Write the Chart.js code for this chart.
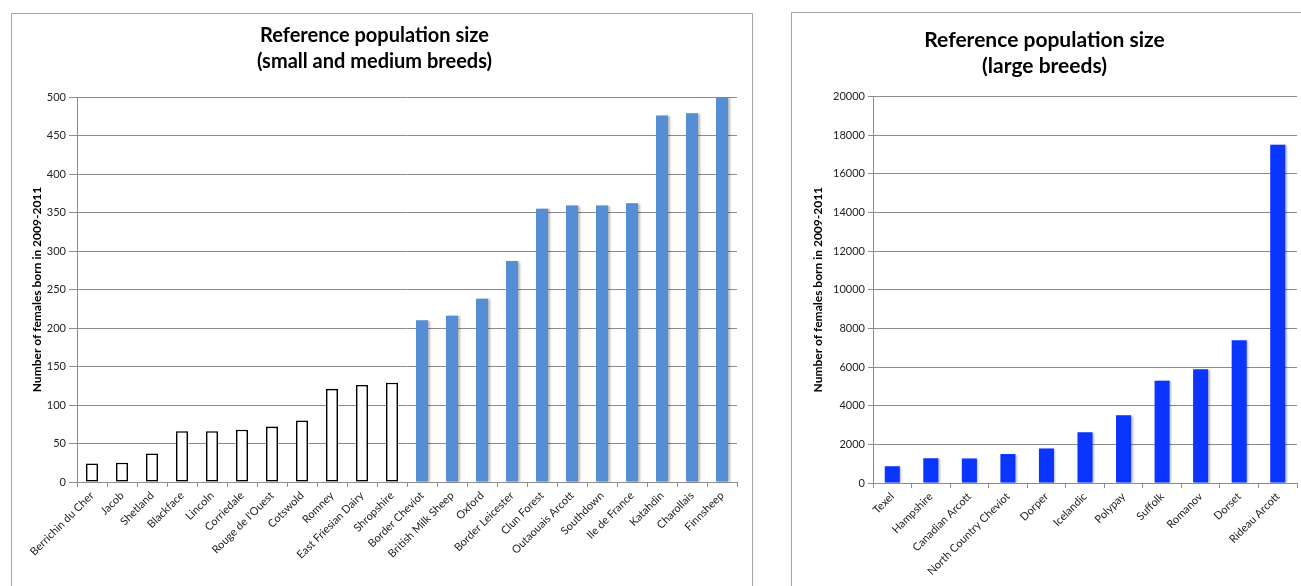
<!DOCTYPE html>
<html>
<head>
<meta charset="utf-8">
<title>Reference population size</title>
<script src="https://cdn.jsdelivr.net/npm/chart.js@4.4.1/dist/chart.umd.min.js"></script>
<style>
  html, body { margin: 0; background: #fff; overflow: hidden; }
  .box { position: absolute; border: 1px solid #a6a6a6; background: #fff; }
  #box-left { left: 11px; top: 13px; width: 740px; height: 600px; }
  #box-right { left: 791px; top: 12px; width: 540px; height: 600px; }
  canvas { display: block; }
</style>
</head>
<body>
<div class="box" id="box-left"><canvas id="chart-small" width="740" height="572"></canvas></div>
<div class="box" id="box-right"><canvas id="chart-large" width="520" height="573"></canvas></div>
<script>
// --- Data ---
const smallBreeds = ['Berrichin du Cher', 'Jacob', 'Shetland', 'Blackface', 'Lincoln', 'Corriedale',
  "Rouge de l'Ouest", 'Cotswold', 'Romney', 'East Friesian Dairy', 'Shropshire']
const smallValues = [24, 25, 37, 66, 66, 68, 72, 80, 121, 126, 129]

const mediumBreeds = ['Border Cheviot', 'British Milk Sheep', 'Oxford', 'Border Leicester', 'Clun Forest',
  'Outaouais Arcott', 'Southdown', 'Ile de France', 'Katahdin', 'Charollais', 'Finnsheep']
const mediumValues = [210, 216, 238, 287, 355, 359, 359, 362, 476, 479, 500]

const largeBreeds = ['Texel', 'Hampshire', 'Canadian Arcott', 'North Country Cheviot', 'Dorper', 'Icelandic',
  'Polypay', 'Suffolk', 'Romanov', 'Dorset', 'Rideau Arcott']
const largeValues = [870, 1280, 1270, 1500, 1780, 2620, 3500, 5290, 5880, 7380, 17500]

const smallAxis = [0, 500, 50] // min, max, step
const largeAxis = [0, 20000, 2000]

const yTitle = 'Number of females born in 2009-2011'

// --- Styling ---
const FONT = 'Lato, "DejaVu Sans", sans-serif'
const GRID = '#8c8c8c'
const TEXT = '#222'

// soft drop shadow behind the bars
const barShadow = {
  id: 'barShadow',
  beforeDatasetsDraw: (c) => {
    c.ctx.save()
    c.ctx.shadowColor = 'rgba(0,0,0,0.28)'
    c.ctx.shadowBlur = 2
    c.ctx.shadowOffsetX = 1.5
    c.ctx.shadowOffsetY = 0.5
  },
  afterDatasetsDraw: (c) => c.ctx.restore(),
}

const makeChart = (id, cfg) => {
  new Chart(document.getElementById(id), {
    type: 'bar',
    data: {
      labels: cfg.labels,
      datasets: [
        {
          data: cfg.values,
          backgroundColor: cfg.fill,
          borderColor: cfg.stroke,
          borderWidth: cfg.strokeWidth,
          borderSkipped: false,
          categoryPercentage: 1,
          barPercentage: cfg.barPct,
        },
      ],
    },
    plugins: [barShadow],
    options: {
      responsive: false,
      animation: false,
      layout: { padding: { left: 0, right: cfg.padRight, top: 0, bottom: 0 } },
      plugins: {
        legend: { display: false },
        tooltip: { enabled: false },
        title: {
          display: true,
          text: cfg.title,
          color: '#000',
          font: { family: FONT, size: cfg.titleSize, weight: 'bold', lineHeight: cfg.titleLine },
          padding: { top: cfg.titleTop, bottom: cfg.titleBottom },
        },
      },
      scales: {
        x: {
          afterFit: (s) => { s.height = cfg.xHeight },
          grid: {
            display: true,
            drawOnChartArea: false,
            drawTicks: true,
            tickLength: 5,
            color: GRID,
            offset: true,
          },
          border: { color: GRID },
          ticks: {
            autoSkip: false,
            minRotation: 45,
            maxRotation: 45,
            padding: 2,
            color: TEXT,
            font: { family: FONT, size: 11 },
          },
        },
        y: {
          min: cfg.axis[0],
          max: cfg.axis[1],
          afterFit: (s) => { s.width = cfg.yWidth },
          grid: { color: GRID, tickLength: cfg.yTick, drawTicks: true },
          border: { color: GRID },
          ticks: {
            stepSize: cfg.axis[2],
            padding: 3,
            color: TEXT,
            font: { family: FONT, size: 11 },
            callback: (v) => String(v), // plain numbers, no thousands separator
          },
          title: {
            display: true,
            text: yTitle,
            color: '#000',
            font: { family: FONT, size: 12, weight: 'bold' },
            padding: { top: cfg.yTitlePad, bottom: 0 },
          },
        },
      },
    },
  })
}

// small and medium breeds: small ones hollow, medium ones filled
const smallMedium = smallValues.concat(mediumValues)
makeChart('chart-small', {
  labels: smallBreeds.concat(mediumBreeds),
  values: smallMedium,
  fill: smallMedium.map((v, i) => (i < smallValues.length ? '#ffffff' : '#558ed5')),
  stroke: smallMedium.map((v, i) => (i < smallValues.length ? '#000000' : '#558ed5')),
  strokeWidth: smallMedium.map((v, i) => (i < smallValues.length ? 1.6 : 0)),
  barPct: 0.4,
  title: ['Reference population size', '(small and medium breeds)'],
  titleSize: 20,
  titleLine: 1.3,
  titleTop: 9,
  titleBottom: 22,
  axis: smallAxis,
  yWidth: 65,
  yTick: 8,
  yTitlePad: 18,
  xHeight: 104,
  padRight: 15,
})

makeChart('chart-large', {
  labels: largeBreeds,
  values: largeValues,
  fill: '#0a35ff',
  stroke: '#0a35ff',
  strokeWidth: 0,
  barPct: 0.39,
  title: ['Reference population size', '(large breeds)'],
  titleSize: 21,
  titleLine: 1.2,
  titleTop: 15,
  titleBottom: 18,
  axis: largeAxis,
  yWidth: 81,
  yTick: 5,
  yTitlePad: 19,
  xHeight: 103,
  padRight: 15,
})
</script>
</body>
</html>
